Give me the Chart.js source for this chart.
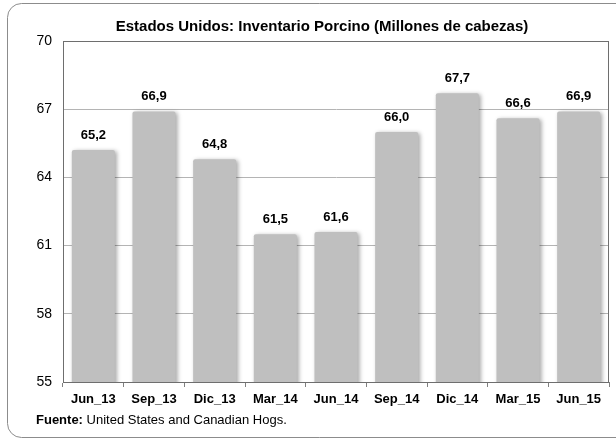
<!DOCTYPE html>
<html>
<head>
<meta charset="utf-8">
<script src="https://cdn.jsdelivr.net/npm/chart.js@4"></script>
<style>
  html, body { margin: 0; padding: 0; background: #fff; }
  #wrap { width: 616px; height: 441px; position: relative; }
</style>
</head>
<body>
<div id="wrap"><canvas id="chart" width="616" height="441"></canvas></div>
<script>
// ======================
// DATA
// ======================

const periods = ["Jun_13", "Sep_13", "Dic_13", "Mar_14", "Jun_14", "Sep_14", "Dic_14", "Mar_15", "Jun_15"];

const inventory = [65.2, 66.9, 64.8, 61.5, 61.6, 66.0, 67.7, 66.6, 66.9];

const yTicks = [55, 58, 61, 64, 67, 70];

const titleText = "Estados Unidos: Inventario Porcino (Millones de cabezas)";

const sourceLabel = "Fuente:";
const sourceText = " United States and Canadian Hogs.";

const FONT = "'Liberation Sans', Arial, sans-serif";

// ======================
// PLUGINS
// ======================

// outer rounded frame, title, plot box, footer
const framePlugin = {
    id: "frame",
    beforeDraw(chart) {
        const ctx = chart.ctx;
        ctx.save();
        ctx.strokeStyle = "#8c8c8c";
        ctx.lineWidth = 1;
        ctx.beginPath();
        ctx.roundRect(7.5, 3.5, 640, 434, 14);
        ctx.stroke();
        ctx.restore();
    },
    afterDraw(chart) {
        const ctx = chart.ctx;
        const a = chart.chartArea;
        ctx.save();
        ctx.strokeStyle = "#6e6e6e";
        ctx.lineWidth = 1;
        ctx.strokeRect(Math.round(a.left) + 0.5, Math.round(a.top) + 0.5,
            Math.round(a.right - a.left) - 1, Math.round(a.bottom - a.top));
        ctx.restore();

        // title
        ctx.save();
        ctx.fillStyle = "#000";
        ctx.textAlign = "center";
        ctx.textBaseline = "alphabetic";
        ctx.font = "bold 15px " + FONT;
        ctx.fillText(titleText, 322, 31);
        ctx.restore();

        // footer
        ctx.save();
        ctx.fillStyle = "#000";
        ctx.textBaseline = "middle";
        ctx.textAlign = "left";
        ctx.font = "bold 13px " + FONT;
        ctx.fillText(sourceLabel, 36, 420);
        const w = ctx.measureText(sourceLabel).width;
        ctx.font = "13px " + FONT;
        ctx.fillText(sourceText, 36 + w, 420);
        ctx.restore();
    }
};

// soft shadow under bars
const shadowPlugin = {
    id: "shadow",
    beforeDatasetsDraw(chart) {
        const ctx = chart.ctx;
        ctx.save();
        ctx.shadowColor = "rgba(0,0,0,0.35)";
        ctx.shadowBlur = 4;
        ctx.shadowOffsetX = 2;
        ctx.shadowOffsetY = 1;
    },
    afterDatasetsDraw(chart) {
        chart.ctx.restore();
    }
};

// value labels above bars
const valueLabels = {
    id: "valueLabels",
    afterDatasetsDraw(chart) {
        const ctx = chart.ctx;
        const meta = chart.getDatasetMeta(0);
        ctx.save();
        ctx.fillStyle = "#000";
        ctx.font = "bold 13px " + FONT;
        ctx.textAlign = "center";
        ctx.textBaseline = "middle";
        meta.data.forEach((bar, i) => {
            const txt = inventory[i].toFixed(1).replace(".", ",");
            ctx.fillText(txt, bar.x, bar.y - 15);
        });
        ctx.restore();
    }
};

// ======================
// CHART
// ======================

new Chart(document.getElementById("chart"), {
    type: "bar",
    data: {
        labels: periods,
        datasets: [{
            data: inventory,
            backgroundColor: "#bfbfbf",
            borderWidth: 0,
            borderRadius: { topLeft: 2, topRight: 2 },
            borderSkipped: "bottom",
            barPercentage: 0.71,
            categoryPercentage: 1
        }]
    },
    options: {
        responsive: false,
        animation: false,
        layout: {
            padding: { top: 41, right: 7, bottom: 0, left: 0 }
        },
        plugins: {
            legend: { display: false },
            tooltip: { enabled: false },
            title: { display: false }
        },
        scales: {
            x: {
                grid: {
                    display: true,
                    offset: true,
                    drawOnChartArea: false,
                    tickLength: 5,
                    color: "#808080"
                },
                border: { color: "#808080" },
                ticks: {
                    color: "#000",
                    font: { family: FONT, size: 13, weight: "bold" },
                    padding: 5,
                    maxRotation: 0
                },
                afterFit(scale) { scale.height = 59; }
            },
            y: {
                min: 55,
                max: 70,
                afterBuildTicks(scale) {
                    scale.ticks = yTicks.map(v => ({ value: v }));
                },
                grid: {
                    color: "#b4b4b4",
                    drawTicks: false
                },
                border: { color: "#6e6e6e" },
                ticks: {
                    color: "#000",
                    font: { family: FONT, size: 14 },
                    padding: 11
                },
                afterFit(scale) { scale.width = 63; }
            }
        }
    },
    plugins: [framePlugin, shadowPlugin, valueLabels]
});
</script>
</body>
</html>
